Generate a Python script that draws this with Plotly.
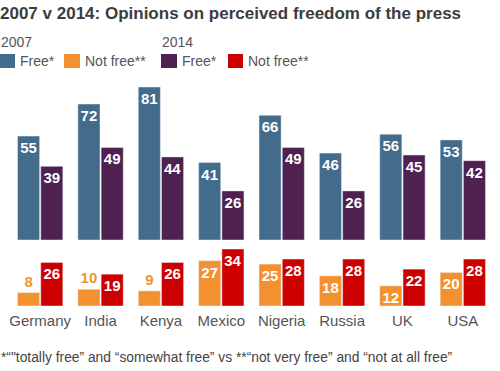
import plotly.graph_objects as go

countries = ["Germany", "India", "Kenya", "Mexico", "Nigeria", "Russia", "UK", "USA"]
free_2007 = [55, 72, 81, 41, 66, 46, 56, 53]
free_2014 = [39, 49, 44, 26, 49, 26, 45, 42]
notfree_2007 = [8, 10, 9, 27, 25, 18, 12, 20]
notfree_2014 = [26, 19, 26, 34, 28, 28, 22, 28]

BLUE = "#426b8c"
PURPLE = "#4e2150"
ORANGE = "#f39130"
RED = "#cc0000"
GREY = "#555555"
FONT = "Liberation Sans, Arial, sans-serif"

W, H = 500, 371
ML, MR, MT, MB = 10, 7, 87, 65
PW, PH = W - ML - MR, H - MT - MB


def px_x(px):
    return (px - ML) / PW


def px_y(py):
    return (H - MB - py) / PH


def pos_for(vals, thresh=11):
    return ["outside" if v < thresh else "inside" for v in vals]


bar_common = dict(
    texttemplate="%{y}",
    insidetextanchor="end",
    insidetextfont=dict(family=FONT, size=15, color="white", weight="bold"),
    textangle=0,
    constraintext="none",
    cliponaxis=False,
    showlegend=False,
    hoverinfo="x+y",
)

fig = go.Figure()
fig.add_trace(go.Bar(x=countries, y=free_2007, name="2007 Free*", marker_color=BLUE,
                     xaxis="x", yaxis="y", offsetgroup="a", textposition="inside", **bar_common))
fig.add_trace(go.Bar(x=countries, y=free_2014, name="2014 Free*", marker_color=PURPLE,
                     xaxis="x", yaxis="y", offsetgroup="b", textposition="inside", **bar_common))
fig.add_trace(go.Bar(x=countries, y=notfree_2007, name="2007 Not free**", marker_color=ORANGE,
                     xaxis="x2", yaxis="y2", offsetgroup="a",
                     textposition=pos_for(notfree_2007),
                     outsidetextfont=dict(family=FONT, size=15, color=ORANGE, weight="bold"),
                     **bar_common))
fig.add_trace(go.Bar(x=countries, y=notfree_2014, name="2014 Not free**", marker_color=RED,
                     xaxis="x2", yaxis="y2", offsetgroup="b", textposition="inside", **bar_common))

shapes = []
annotations = []

# legend
legend_items = [
    (0, 15, BLUE, 19, "Free*"),
    (64, 80, ORANGE, 84, "Not free**"),
    (161, 177, PURPLE, 181, "Free*"),
    (228, 243, RED, 247, "Not free**"),
]
for x0, x1, col, tx, label in legend_items:
    shapes.append(dict(type="rect", xref="paper", yref="paper",
                       x0=px_x(x0), x1=px_x(x1), y0=px_y(68), y1=px_y(54),
                       fillcolor=col, line=dict(width=0)))
    annotations.append(dict(text=label, xref="paper", yref="paper", x=px_x(tx - 1), y=px_y(61),
                            xanchor="left", yanchor="middle", showarrow=False,
                            font=dict(family=FONT, size=14, color=GREY)))
for tx, label in [(0, "2007"), (161, "2014")]:
    annotations.append(dict(text=label, xref="paper", yref="paper", x=px_x(tx - 1), y=px_y(42),
                            xanchor="left", yanchor="middle", showarrow=False,
                            font=dict(family=FONT, size=14, color=GREY)))

annotations.append(dict(
    text="*“\"totally free” and “somewhat free” vs **“not very free” and “not at all free”",
    xref="paper", yref="paper", x=px_x(-1), y=px_y(357), xanchor="left", yanchor="middle",
    showarrow=False, font=dict(family=FONT, size=13.8, color="#444444")))

fig.update_layout(
    width=W, height=H,
    margin=dict(l=ML, r=MR, t=MT, b=MB),
    paper_bgcolor="white", plot_bgcolor="white",
    barmode="group", bargap=0.23, bargroupgap=0.05,
    title=dict(text="<b>2007 v 2014: Opinions on perceived freedom of the press</b>",
               x=0, xanchor="left", xref="container", y=1 - 13 / H, yanchor="middle",
               yref="container", font=dict(family=FONT, size=17, color="#3c3c3c")),
    xaxis=dict(domain=[0, 1], anchor="y", showticklabels=False, showgrid=False,
               zeroline=False, showline=False, ticks="", matches="x2"),
    yaxis=dict(domain=[px_y(240), 1], range=[0, 81], visible=False),
    xaxis2=dict(domain=[0, 1], anchor="y2", showgrid=False, zeroline=False, showline=False,
                ticks="", ticklabelstandoff=4,
                tickfont=dict(family=FONT, size=15, color=GREY)),
    yaxis2=dict(domain=[0, px_y(249)], range=[0, 34], visible=False),
    shapes=shapes,
    annotations=annotations,
    font=dict(family=FONT),
)

fig.write_html("out.html", config={"displayModeBar": False},
               post_script="document.body.style.margin='0';")
